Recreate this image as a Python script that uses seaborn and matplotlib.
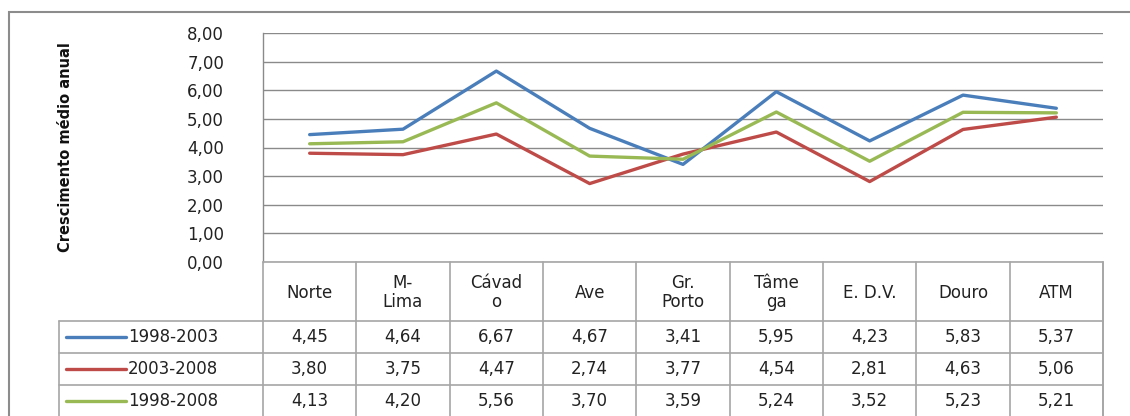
import numpy as np
import pandas as pd
import matplotlib
matplotlib.use("Agg")
import matplotlib.pyplot as plt
from matplotlib.patches import Rectangle
from matplotlib.lines import Line2D
import seaborn as sns

regions = ["Norte", "M-\nLima", "Cávad\no", "Ave", "Gr.\nPorto",
           "Tâme\nga", "E. D.V.", "Douro", "ATM"]
periods = ["1998-2003", "2003-2008", "1998-2008"]
v_1998_2003 = [4.45, 4.64, 6.67, 4.67, 3.41, 5.95, 4.23, 5.83, 5.37]
v_2003_2008 = [3.80, 3.75, 4.47, 2.74, 3.77, 4.54, 2.81, 4.63, 5.06]
v_1998_2008 = [4.13, 4.20, 5.56, 3.70, 3.59, 5.24, 3.52, 5.23, 5.21]
y_ticks = [0, 1, 2, 3, 4, 5, 6, 7, 8]
colors = ["#4A7EBB", "#BE4B48", "#98B954"]

series = [v_1998_2003, v_2003_2008, v_1998_2008]
df = pd.DataFrame({
    "pos": np.tile(np.arange(len(regions)), len(periods)),
    "valor": np.concatenate(series),
    "periodo": np.repeat(periods, len(regions)),
})

sns.set_style("white")
plt.rcParams["font.family"] = ["DejaVu Sans"]

W, H = 1130, 416
fig = plt.figure(figsize=(W / 100, H / 100), dpi=100)

def px_axes(x0, y0, x1, y1):
    # axes placed by pixel box (top-left origin)
    return fig.add_axes([x0 / W, 1 - y1 / H, (x1 - x0) / W, (y1 - y0) / H])

grid_c = "#8a8a8a"
line_c = "#a6a6a6"

# plot area
ax = px_axes(263, 33, 1103, 262)
sns.lineplot(data=df, x="pos", y="valor", hue="periodo", palette=colors,
             linewidth=2.4, ax=ax, legend=False, sort=False)
ax.set_xlim(-0.5, len(regions) - 0.5)
ax.set_ylim(0, 8)
ax.set_yticks(y_ticks)
ax.set_yticklabels([f"{t:.2f}".replace(".", ",") for t in y_ticks],
                   fontsize=12, color="#222222")
ax.tick_params(axis="y", length=0, pad=28)
ax.set_xticks([])
ax.set_xlabel("")
ax.set_ylabel("")
for t in y_ticks:
    ax.axhline(t, color=grid_c, lw=1.0, zorder=0)
for s in ["top", "right", "bottom"]:
    ax.spines[s].set_visible(False)
ax.spines["left"].set_color(grid_c)
ax.spines["left"].set_linewidth(1.0)

fig.text(65 / W, 1 - 147 / H, "Crescimento médio anual", rotation=90,
         ha="center", va="center", fontsize=10.5, fontweight="bold",
         color="#111111")

# data table below the plot
n = len(regions)
leg_w = (263 - 59) / ((1103 - 263) / n)
tab = px_axes(59, 262, 1103, 416)
tab.set_xlim(-0.5 - leg_w, n - 0.5)
tab.set_ylim(154, 0)
tab.axis("off")
head_h, row_h = 59, 32
row_tops = [head_h + i * row_h for i in range(len(periods))]

lk = dict(color=line_c, lw=1.2, clip_on=False)
# vertical lines
for b in np.arange(-0.5, n, 1.0):
    tab.plot([b, b], [0, 200], **lk)
tab.plot([n - 0.5, n - 0.5], [0, 200], **lk)
tab.plot([-0.5 - leg_w, -0.5 - leg_w], [head_h, 200], **lk)
# horizontal lines
tab.plot([-0.5, n - 0.5], [0, 0], **lk)
for yt in row_tops:
    tab.plot([-0.5 - leg_w, n - 0.5], [yt, yt], **lk)

for i, name in enumerate(regions):
    tab.text(i, head_h / 2 + 1, name, ha="center", va="center",
             fontsize=12, color="#222222", linespacing=1.05)

for r, (p, vals, c) in enumerate(zip(periods, series, colors)):
    yc = row_tops[r] + row_h / 2
    x0 = -0.5 - leg_w
    tab.add_line(Line2D([x0 + 0.07, x0 + 0.72], [yc, yc], color=c, lw=2.4))
    tab.text(x0 + 0.74, yc, p, ha="left", va="center", fontsize=12,
             color="#222222")
    for i, v in enumerate(vals):
        tab.text(i, yc, f"{v:.2f}".replace(".", ","), ha="center",
                 va="center", fontsize=12, color="#222222")

# outer chart border
fig.patches.append(Rectangle((9 / W, -0.1), 1.2, 1.1 - 12 / H,
                             transform=fig.transFigure, fill=False,
                             edgecolor="#8c8c8c", lw=1.5))

fig.savefig("out.png", dpi=100, facecolor="white")
